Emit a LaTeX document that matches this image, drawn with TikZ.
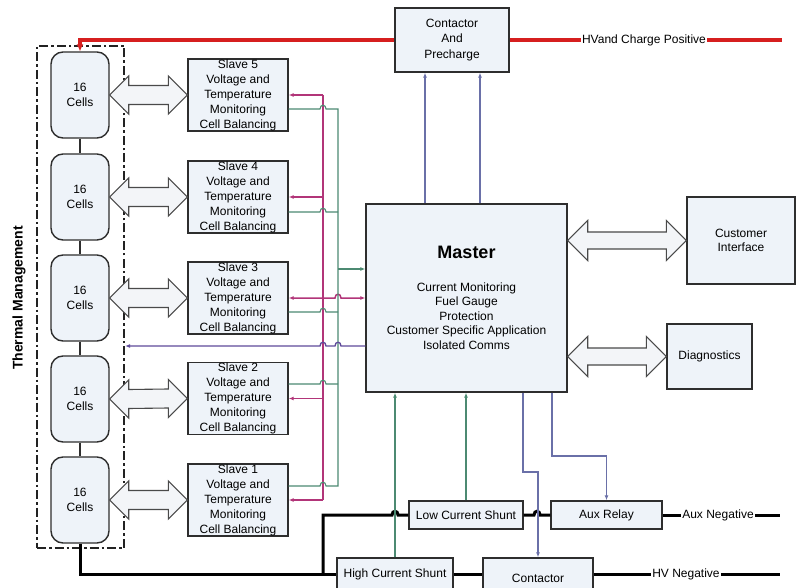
\documentclass[tikz,border=0pt]{standalone}
\usepackage{fontspec}
\setmainfont{Liberation Sans}
\usetikzlibrary{arrows.meta,calc}
\definecolor{boxfill}{HTML}{EEF3F9}
\definecolor{boxline}{HTML}{2E2E2E}
\definecolor{arrfill}{HTML}{F3F5F8}
\definecolor{arrline}{HTML}{4A4A4A}
\definecolor{hvred}{HTML}{D61F1F}
\definecolor{busmag}{HTML}{B23579}
\definecolor{busgrn}{HTML}{4C8A72}
\definecolor{buspur}{HTML}{5F4B9B}
\definecolor{ctlblue}{HTML}{6A70A8}
\definecolor{thline}{HTML}{222222}
\newcommand\hopR[2]{-- ({#1-3},#2) .. controls ({#1-3},{#2-5}) and ({#1+3},{#2-5}) .. ({#1+3},#2)}
\newcommand\hopL[2]{-- ({#1+3},#2) .. controls ({#1+3},{#2-5}) and ({#1-3},{#2-5}) .. ({#1-3},#2)}
\newcommand\fatdbl[5]{\draw[fatarrow] (#1) -- ($(#1)+(#3,-#4)$) -- ($(#1)+(#3,-#5)$) -- ($(#2)+(-#3,-#5)$) -- ($(#2)+(-#3,-#4)$) -- (#2) -- ($(#2)+(-#3,#4)$) -- ($(#2)+(-#3,#5)$) -- ($(#1)+(#3,#5)$) -- ($(#1)+(#3,#4)$) -- cycle;}
\begin{document}
\begin{tikzpicture}[x=1pt,y=-1pt,
  every node/.style={inner sep=0pt, font=\fontsize{12}{15}\selectfont, align=center},
  box/.style={draw=boxline, line width=1.4pt, fill=boxfill},
  cellbox/.style={box, rounded corners=12pt, minimum width=58pt, minimum height=86pt},
  slavebox/.style={box, minimum width=100pt, minimum height=72pt},
  fatarrow/.style={draw=arrline, line width=1.1pt, fill=arrfill, line join=miter},
  hvline/.style={draw=hvred, line width=3.5pt},
  blkline/.style={draw=black, line width=3pt},
  magline/.style={draw=busmag, line width=1.5pt},
  grnline/.style={draw=busgrn, line width=1.1pt},
  purline/.style={draw=buspur, line width=1.3pt},
  bluline/.style={draw=ctlblue, line width=1.1pt},
  celllink/.style={draw=boxline, line width=1.2pt},
  >={Latex[length=5pt,width=4pt]},
  lbl/.style={fill=white, inner xsep=1pt, inner ysep=2pt}
]
\useasboundingbox (0,0) rectangle (798,588);
\fill[white] (0,0) rectangle (798,588);

% thermal management group
\node[draw=thline, line width=2.2pt, dash pattern=on 9pt off 3pt on 2.5pt off 3pt,
      minimum width=87pt, minimum height=502pt] (thermal) at (80.5,297) {};
\node[rotate=90, font=\fontsize{14}{16}\selectfont\bfseries] (tmlabel) at (19,298) {Thermal Management};

% cells
\node[cellbox] (cell5) at (80,95) {16\\Cells};
\node[cellbox] (cell4) at (80,197) {16\\Cells};
\node[cellbox] (cell3) at (80,298) {16\\Cells};
\node[cellbox] (cell2) at (80,399) {16\\Cells};
\node[cellbox] (cell1) at (80,500) {16\\Cells};
\draw[celllink] (cell5.south) -- (cell4.north);
\draw[celllink] (cell4.south) -- (cell3.north);
\draw[celllink] (cell3.south) -- (cell2.north);
\draw[celllink] (cell2.south) -- (cell1.north);

% slaves
\node[slavebox] (s5) at (238,95) {Slave 5\\Voltage and\\Temperature\\Monitoring\\Cell Balancing};
\node[slavebox] (s4) at (238,197) {Slave 4\\Voltage and\\Temperature\\Monitoring\\Cell Balancing};
\node[slavebox] (s3) at (238,298) {Slave 3\\Voltage and\\Temperature\\Monitoring\\Cell Balancing};
\node[slavebox] (s2) at (238,398.5) {Slave 2\\Voltage and\\Temperature\\Monitoring\\Cell Balancing};
\node[slavebox] (s1) at (238,500) {Slave 1\\Voltage and\\Temperature\\Monitoring\\Cell Balancing};

\fatdbl{cell5.east}{s5.west}{19}{19}{9.5}
\fatdbl{cell4.east}{s4.west}{19}{19}{9.5}
\fatdbl{cell3.east}{s3.west}{19}{19}{9.5}
\fatdbl{cell2.east}{s2.west}{19}{19}{9.5}
\fatdbl{cell1.east}{s1.west}{19}{19}{9.5}

% other boxes
\node[box, minimum width=114pt, minimum height=64pt, font=\fontsize{12}{15.5}\selectfont] (cap) at (452,40) {Contactor\\And\\Precharge};
\node[box, minimum width=201pt, minimum height=188pt, font=\fontsize{12}{14.5}\selectfont] (master) at (466.5,298)
  {{\fontsize{18}{20}\selectfont\bfseries Master}\\[18pt]Current Monitoring\\Fuel Gauge\\Protection\\Customer Specific Application\\Isolated Comms};
\node[box, minimum width=108pt, minimum height=87pt, font=\fontsize{12}{14}\selectfont] (ci) at (741,240.5) {Customer\\Interface};
\node[box, minimum width=85pt, minimum height=65pt] (diag) at (709.5,356.5) {Diagnostics};
\node[box, minimum width=114pt, minimum height=28pt] (lcs) at (466,515) {Low Current Shunt};
\node[box, minimum width=111pt, minimum height=28pt] (aux) at (606.5,515) {Aux Relay};
\node[box, minimum width=116pt, minimum height=32pt] (hcs) at (395,574) {High Current Shunt};
\node[box, minimum width=110pt, minimum height=32pt, text height=18pt, text depth=2pt] (cont) at (538,574) {Contactor};

\fatdbl{master.east |- ci.west}{ci.west}{20}{20}{8.5}
\fatdbl{master.east |- diag.west}{diag.west}{20}{20}{8.5}

% HV positive
\node[lbl] (hvpos) at (644,40) {HVand Charge Positive};
\coordinate (hvposend) at (782,40);
\draw[hvline, -{Latex[length=7pt,width=7pt]}] (cap.west) -| (cell5.north);
\draw[hvline] (cap.east) -- (hvpos.west);
\draw[hvline] (hvpos.east) -- (hvposend);

% buses
\coordinate (magx) at (323,0);
\coordinate (gx) at (338,0);
\draw[magline] (magx |- s5.east) -- (magx |- s1.east);
\draw[magline,->] (magx |- s5.east) -- (s5.east);
\draw[magline,->] (magx |- s4.east) -- (s4.east);
\draw[magline,->] (magx |- s2.east) -- (s2.east);
\draw[magline,->] (magx |- s1.east) -- (s1.east);
\draw[magline,<->] (master.west) \hopL{338}{298} -- (s3.east);

\draw[grnline] ($(s5.east)+(0,14)$) \hopR{323}{109} -- (338,109) -- (338,486) \hopL{323}{486} -- ($(s1.east)+(0,-14)$);
\draw[grnline] ($(s4.east)+(0,15)$) \hopR{323}{212} -- (gx |- 0,212);
\draw[grnline] ($(s3.east)+(0,14)$) \hopR{323}{312} -- (gx |- 0,312);
\draw[grnline] ($(s2.east)+(0,-14.5)$) \hopR{323}{384} -- (gx |- 0,384);
\draw[grnline,->] (gx |- 0,269) -- (master.west |- 0,269);

\draw[purline,<-] (thermal.east |- 0,346) \hopR{323}{346} \hopR{338}{346} -- (master.west |- 0,346);

% master to contactor and precharge
\coordinate (xa) at (425,0);
\coordinate (xb) at (480,0);
\draw[bluline,->] (master.north -| xa) -- (cap.south -| xa);
\draw[bluline,->] (master.north -| xb) -- (cap.south -| xb);

% bottom power path
\node[lbl] (auxneg) at (718,515) {Aux Negative};
\node[lbl] (hvneg) at (686,574) {HV Negative};
\coordinate (auxend) at (780,515);
\coordinate (hvnegend) at (780,574);
\coordinate (jn) at (323,574);
\draw[blkline] (cell1.south) |- (hcs.west);
\draw[blkline] (jn) -- (323,515) \hopR{395}{515} -- (lcs.west);
\draw[blkline] (lcs.east) \hopR{537}{515} -- (aux.west);
\draw[blkline] (aux.east) -- (auxneg.west);
\draw[blkline] (auxneg.east) -- (auxend);
\draw[blkline] (hcs.east) -- (cont.west);
\draw[blkline] (cont.east) -- (hvneg.west);
\draw[blkline] (hvneg.east) -- (hvnegend);

% shunts to master
\draw[grnline,->] (hcs.north) -- (hcs.north |- master.south);
\draw[grnline,->] (lcs.north) -- (lcs.north |- master.south);

% master to contactor / aux relay
\coordinate (xc) at (523,0);
\coordinate (xd) at (552,0);
\draw[bluline,->] (master.south -| xc) -- (xc |- 0,472) -| (cont.north);
\draw[bluline,->] (master.south -| xd) -- (xd |- 0,456) -| (aux.north);
\end{tikzpicture}
\end{document}
